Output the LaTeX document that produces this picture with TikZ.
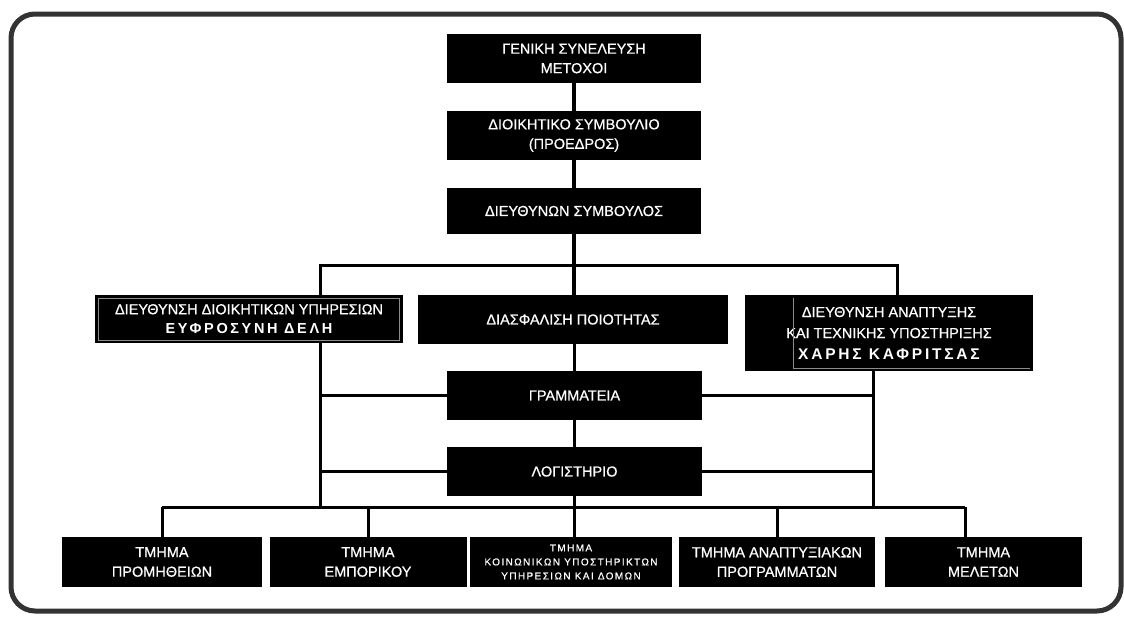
\documentclass[tikz,border=0pt]{standalone}
\usepackage{fontspec}
\setmainfont{Liberation Sans}[FakeBold=0.6]
\newfontfamily\spacedfont{Liberation Sans Bold}[LetterSpace=18]
\newfontfamily\smallspaced{Liberation Sans}[LetterSpace=14,FakeBold=0.6]
\begin{document}
\begin{tikzpicture}[x=1pt,y=-1pt,
  box/.style={fill=black, text=white, inner sep=0pt, align=center,
    font=\fontsize{14.5}{19.5}\selectfont},
  conn/.style={line width=3pt, black},
  spine/.style={line width=3.5pt, black},
  frame/.style={line width=5pt, black!80, rounded corners=24pt},
  innerline/.style={line width=0.6pt, black!45}]
\useasboundingbox (0,0) rectangle (1124,616);
\draw[frame] (11,14) rectangle (1121,611);

% top column
\node[box, minimum width=254pt, minimum height=49pt] (gen) at (574,58.5) {ΓΕΝΙΚΗ ΣΥΝΕΛΕΥΣΗ\\ΜΕΤΟΧΟΙ};
\node[box, minimum width=254pt, minimum height=49pt] (bod) at (574,135.5) {ΔΙΟΙΚΗΤΙΚΟ ΣΥΜΒΟΥΛΙΟ\\(ΠΡΟΕΔΡΟΣ)};
\node[box, minimum width=254pt, minimum height=46pt] (ceo) at (574,211) {ΔΙΕΥΘΥΝΩΝ ΣΥΜΒΟΥΛΟΣ};

% second row
\node[box, minimum width=308pt, minimum height=48pt] (dir) at (249,319) {ΔΙΕΥΘΥΝΣΗ ΔΙΟΙΚΗΤΙΚΩΝ ΥΠΗΡΕΣΙΩΝ\\{\spacedfont\fontsize{14.5}{19.5}\selectfont ΕΥΦΡΟΣΥΝΗ ΔΕΛΗ}};
\node[box, minimum width=310pt, minimum height=49pt] (qa) at (573,319.5) {ΔΙΑΣΦΑΛΙΣΗ ΠΟΙΟΤΗΤΑΣ};
\node[box, minimum width=288pt, minimum height=76pt, font=\fontsize{14.5}{21}\selectfont] (dev) at (889,333) {ΔΙΕΥΘΥΝΣΗ ΑΝΑΠΤΥΞΗΣ\\ΚΑΙ ΤΕΧΝΙΚΗΣ ΥΠΟΣΤΗΡΙΞΗΣ\\{\spacedfont\fontsize{15.5}{21}\selectfont ΧΑΡΗΣ ΚΑΦΡΙΤΣΑΣ}};
\draw[innerline] (98,298) rectangle (399,340);
\draw[innerline] (793,298) -- (793,368) -- (1030,368);

% middle column
\node[box, minimum width=255pt, minimum height=49pt] (gram) at (574.5,395.5) {ΓΡΑΜΜΑΤΕΙΑ};
\node[box, minimum width=255pt, minimum height=49pt] (log) at (574.5,471.5) {ΛΟΓΙΣΤΗΡΙΟ};

% bottom row
\node[box, minimum width=200pt, minimum height=50pt] (prom) at (162,562) {ΤΜΗΜΑ\\ΠΡΟΜΗΘΕΙΩΝ};
\node[box, minimum width=197pt, minimum height=50pt] (emp) at (368,562) {ΤΜΗΜΑ\\ΕΜΠΟΡΙΚΟΥ};
\node[box, minimum width=202pt, minimum height=50pt, font=\smallspaced\fontsize{10}{14}\selectfont] (koin) at (571,562) {ΤΜΗΜΑ\\ΚΟΙΝΩΝΙΚΩΝ ΥΠΟΣΤΗΡΙΚΤΩΝ\\ΥΠΗΡΕΣΙΩΝ ΚΑΙ ΔΟΜΩΝ};
\node[box, minimum width=196pt, minimum height=50pt] (anap) at (777,562) {ΤΜΗΜΑ ΑΝΑΠΤΥΞΙΑΚΩΝ\\ΠΡΟΓΡΑΜΜΑΤΩΝ};
\node[box, minimum width=197pt, minimum height=50pt] (mel) at (983.5,562) {ΤΜΗΜΑ\\ΜΕΛΕΤΩΝ};

% junction coordinates
\coordinate (t1) at (320,265);
\coordinate (t2) at (897,265);
\coordinate (b1) at (320,507);
\coordinate (b2) at (873,507);
\coordinate (bl) at (162,507);
\coordinate (br) at (965,507);

% spine
\draw[spine] (gen) -- (bod);
\draw[spine] (bod) -- (ceo);
\draw[spine] (ceo.south) -- (ceo.south |- qa.north);
\draw[spine] (qa.south -| gram.north) -- (gram.north);
\draw[spine] (gram) -- (log);
\draw[spine] (log.south) -- (log.south |- koin.north);

% upper bar
\draw[conn] (t1 |- dir.north) -- (t1) -- (t2) -- (t2 |- dev.north);
% side verticals
\draw[conn] (t1 |- dir.south) -- (b1);
\draw[conn] (b2 |- dev.south) -- (b2);
% side branches
\draw[conn] (gram.west) -- (gram.west -| b1);
\draw[conn] (log.west) -- (log.west -| b1);
\draw[conn] (gram.east) -- (gram.east -| b2);
\draw[conn] (log.east) -- (log.east -| b2);
% bottom bar
\draw[conn] (bl) -- (br);
\draw[conn] (prom.north |- bl) -- (prom.north);
\draw[conn] (emp.north |- bl) -- (emp.north);
\draw[conn] (anap.north |- bl) -- (anap.north);
\draw[conn] (br) -- (br |- mel.north);
\end{tikzpicture}
\end{document}
